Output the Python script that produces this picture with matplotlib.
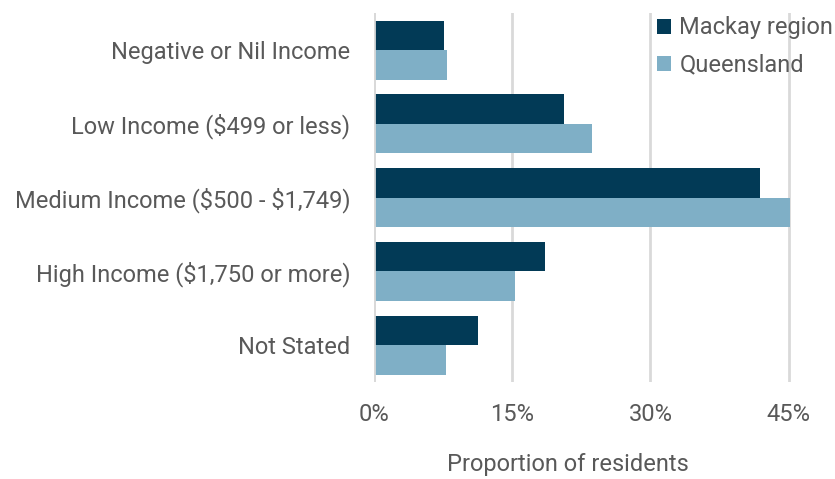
import numpy as np
import matplotlib.pyplot as plt

plt.rcParams['font.family'] = ['Roboto', 'DejaVu Sans']
plt.rcParams['text.parse_math'] = False

# Weekly household income bands
categories = ['Negative or Nil Income', 'Low Income ($499 or less)',
              'Medium Income ($500 - $1,749)', 'High Income ($1,750 or more)',
              'Not Stated']
mackay = [7.6, 20.6, 41.9, 18.5, 11.3]
queensland = [7.9, 23.7, 45.2, 15.3, 7.8]
xticks = [0, 15, 30, 45]

dark = '#023a56'
light = '#7fafc6'
grey = '#595959'

fig = plt.figure(figsize=(8.35, 4.79), dpi=100)
ax = fig.add_axes([0.448, 0.2025, 0.502, 0.770])

y = np.arange(len(categories))
h = 0.4
ax.barh(y - h / 2, mackay, height=h, color=dark, label='Mackay region', zorder=3)
ax.barh(y + h / 2, queensland, height=h, color=light, label='Queensland', zorder=3)

ax.set_ylim(len(categories) - 0.5, -0.5)
ax.set_xlim(0, 45.5)
ax.set_yticks(y)
ax.set_yticklabels(categories)
ax.set_xticks(xticks)
ax.set_xticklabels([f'{t}%' for t in xticks])

ax.tick_params(axis='both', length=0, labelsize=17, labelcolor=grey)
ax.tick_params(axis='y', pad=17)
ax.tick_params(axis='x', pad=15)

for s in ax.spines.values():
    s.set_visible(False)
ax.grid(axis='x', color='#d9d9d9', linewidth=2, zorder=0)
ax.axvline(0, color='#d9d9d9', linewidth=2, zorder=4)

fig.text(0.68, 0.03, 'Proportion of residents', ha='center', va='center',
         fontsize=17, color=grey)

ax.legend(loc='upper left', bbox_to_anchor=(0.652, 1.017), frameon=False,
          fontsize=17, labelcolor=grey, handlelength=0.6, handleheight=0.6,
          handletextpad=0.35, labelspacing=0.6, borderaxespad=0)

fig.savefig('out.png', dpi=100)
